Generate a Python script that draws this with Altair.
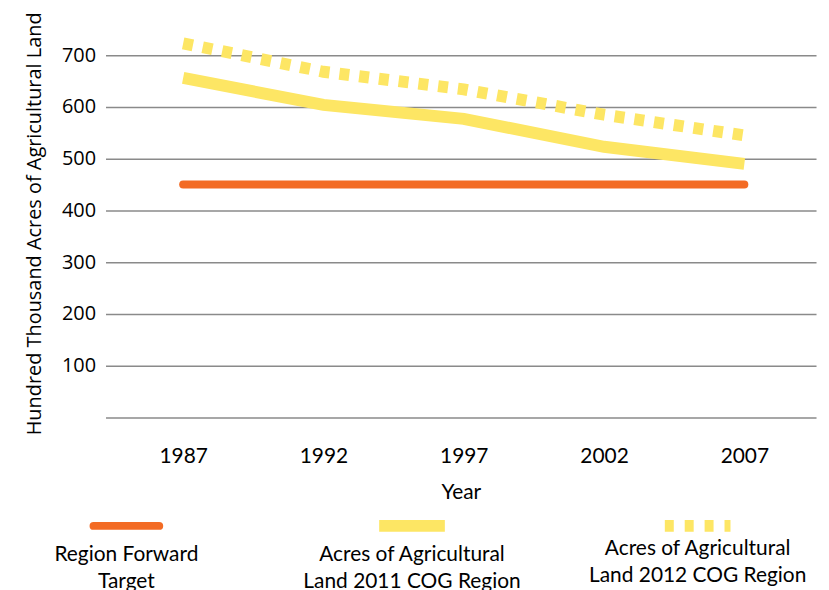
import altair as alt
import pandas as pd

years = ["1987", "1992", "1997", "2002", "2007"]
target = [450, 450, 450, 450, 450]
cog_2011 = [656, 604, 577, 523, 490]
cog_2012 = [723, 668, 634, 585, 545]
series_names = [
    "Region Forward Target",
    "Acres of Agricultural Land 2011 COG Region",
    "Acres of Agricultural Land 2012 COG Region",
]
legend_labels = [
    "Region Forward\nTarget",
    "Acres of Agricultural\nLand 2011 COG Region",
    "Acres of Agricultural\nLand 2012 COG Region",
]
y_ticks = [0, 100, 200, 300, 400, 500, 600, 700]

ORANGE = "#F36B24"
YELLOW = "#FDE664"

rows = []
for name, vals in zip(series_names, [target, cog_2011, cog_2012]):
    for yr, v in zip(years, vals):
        rows.append({"year": yr, "value": v, "series": name})
df = pd.DataFrame(rows)

x_enc = alt.X(
    "year:O",
    scale=alt.Scale(type="point", padding=0.532, align=0.52),
    axis=alt.Axis(
        title="Year", labelAngle=0, ticks=False, domain=False, grid=False,
        labelPadding=28, titlePadding=15,
        labelFont="Lato", labelFontSize=21, labelColor="#000",
        titleFont="Lato", titleFontSize=21, titleFontWeight="normal", titleColor="#000",
    ),
)
y_enc = alt.Y(
    "value:Q",
    scale=alt.Scale(domain=[0, 750], nice=False),
    axis=alt.Axis(
        title="Hundred Thousand Acres of Agricultural Land",
        values=y_ticks,
        labelExpr="datum.value == 0 ? '' : datum.label",
        ticks=False, domain=False, grid=True,
        gridColor="#8a8a8a", gridWidth=1.6,
        labelPadding=10, titlePadding=17,
        labelFont="Open Sans", labelFontSize=20, labelColor="#000",
        titleFont="Open Sans", titleFontSize=20, titleFontWeight="normal", titleColor="#000",
    ),
)

base = alt.Chart(df).encode(x=x_enc, y=y_enc)
l_2012 = base.transform_filter(alt.datum.series == series_names[2]).mark_line(
    color=YELLOW, strokeWidth=12, strokeDash=[10, 10], strokeCap="butt"
)
l_2011 = base.transform_filter(alt.datum.series == series_names[1]).mark_line(
    color=YELLOW, strokeWidth=12, strokeCap="butt"
)
l_target = base.transform_filter(alt.datum.series == series_names[0]).mark_line(
    color=ORANGE, strokeWidth=8, strokeCap="round"
)
main = alt.layer(l_2012, l_2011, l_target).properties(width=714, height=390)

leg_df = pd.DataFrame({"series": series_names, "label": legend_labels})
lx = alt.X("series:N", scale=alt.Scale(type="point", domain=series_names, padding=0.073), axis=None)
leg_base = alt.Chart(leg_df)
sym_target = leg_base.transform_filter(alt.datum.series == series_names[0]).mark_rule(
    color=ORANGE, strokeWidth=8, strokeCap="round", xOffset=-33, x2Offset=33
).encode(x=lx, x2="series:N", y=alt.value(14))
sym_2011 = leg_base.transform_filter(alt.datum.series == series_names[1]).mark_rule(
    color=YELLOW, strokeWidth=12, strokeCap="butt", xOffset=-33, x2Offset=33
).encode(x=lx, x2="series:N", y=alt.value(14))
sym_2012 = leg_base.transform_filter(alt.datum.series == series_names[2]).mark_rule(
    color=YELLOW, strokeWidth=12, strokeCap="butt", strokeDash=[9, 11], xOffset=-33, x2Offset=33
).encode(x=lx, x2="series:N", y=alt.value(14))
text_props = dict(lineBreak="\n", baseline="top", align="center", font="Lato",
                  fontSize=21, lineHeight=27, color="#000")
leg_text_a = leg_base.transform_filter(alt.datum.series != series_names[2]).mark_text(
    **text_props
).encode(x=lx, y=alt.value(32), text="label:N")
leg_text_b = leg_base.transform_filter(alt.datum.series == series_names[2]).mark_text(
    **text_props
).encode(x=lx, y=alt.value(26), text="label:N")
legend = alt.layer(sym_target, sym_2011, sym_2012, leg_text_a, leg_text_b).properties(width=616, height=80)

chart = (
    alt.vconcat(main, legend, spacing=10)
    .resolve_scale(x="independent", y="independent")
    .properties(padding={"left": 16, "top": 2, "right": 5, "bottom": 0})
    .configure_view(stroke=None)
)
chart.save("out.html", embed_options={"renderer": "svg", "actions": False})
